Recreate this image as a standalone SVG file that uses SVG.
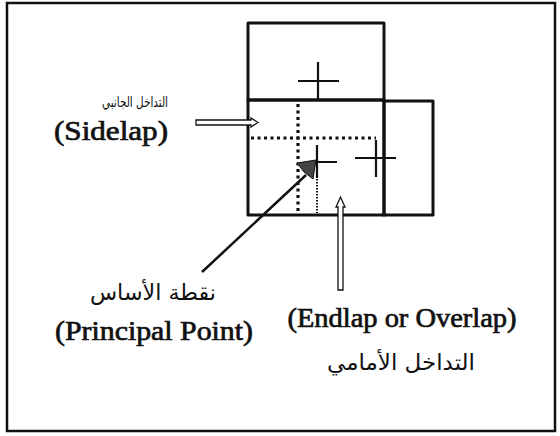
<svg xmlns="http://www.w3.org/2000/svg" width="560" height="436" viewBox="0 0 560 436">
<style>
.frame{fill:none;stroke:#111;stroke-width:3;stroke-linejoin:round}
.cross{stroke:#111;stroke-width:2.2;fill:none}
.dotbig{stroke:#111;stroke-width:3.2;stroke-dasharray:3 3.5;fill:none}
.dotfine{stroke:#111;stroke-width:2;stroke-dasharray:1.5 1.5;fill:none}
.en{font-size:27px;fill:#111;text-anchor:middle;stroke:#111;stroke-width:0.7}
.ar{font-family:'DejaVu Sans',sans-serif;fill:#111;text-anchor:middle}
.hollow{fill:#fff;stroke:#111;stroke-width:1.3}
</style>
<rect x="0" y="0" width="560" height="436" fill="#fff"/>
<rect x="7" y="3" width="548" height="428" fill="none" stroke="#111" stroke-width="2.5"/>

<g id="photo-top">
  <rect class="frame" x="248" y="23" width="136" height="77"/>
  <path class="cross" d="M298 81H339M318 62V100"/>
</g>
<g id="photo-center">
  <rect class="frame" x="248" y="100" width="136" height="115"/>
  <path class="cross" d="M310 162H337M317 145V178"/>
  <path class="dotfine" d="M317 179V213"/>
</g>
<g id="photo-right">
  <rect class="frame" x="384" y="101" width="49" height="114"/>
  <path class="cross" d="M355 158H396M376 140V177"/>
</g>
<g id="overlap-lines">
  <path class="dotbig" d="M251 138H376"/>
  <path class="dotbig" d="M298 104V212"/>
</g>
<g id="principal-point">
  <polygon points="297,163 316,160 313,179 304,172" fill="#444" stroke="#111" stroke-width="1"/>
</g>

<g id="connectors">
  <line x1="202" y1="272" x2="306" y2="175" stroke="#111" stroke-width="2.5"/>
  <polygon class="hollow" points="196,120 251,120 251,118 258,122.5 251,127 251,125 196,125"/>
  <polygon class="hollow" points="338,290 338,207 336,207 340.5,197 345,207 343,207 343,290"/>
</g>

<g id="label-sidelap">
  <text class="ar" x="135" y="107" font-size="14" textLength="66" lengthAdjust="spacingAndGlyphs">التداخل الجانبي</text>
  <text class="en" font-family="Times New Roman, Tinos, Liberation Serif, serif" x="111" y="140" textLength="114" lengthAdjust="spacingAndGlyphs">(Sidelap)</text>
</g>
<g id="label-principal">
  <text class="ar" x="153" y="300" font-size="22" textLength="126" lengthAdjust="spacingAndGlyphs">نقطة الأساس</text>
  <text class="en" font-family="Times New Roman, Tinos, Liberation Serif, serif" x="154" y="340" textLength="198" lengthAdjust="spacingAndGlyphs">(Principal Point)</text>
</g>
<g id="label-endlap">
  <text class="en" font-family="Times New Roman, Tinos, Liberation Serif, serif" x="402" y="327" textLength="229" lengthAdjust="spacingAndGlyphs">(Endlap or Overlap)</text>
  <text class="ar" x="401" y="370" font-size="22" textLength="148" lengthAdjust="spacingAndGlyphs">التداخل الأمامي</text>
</g>
</svg>
